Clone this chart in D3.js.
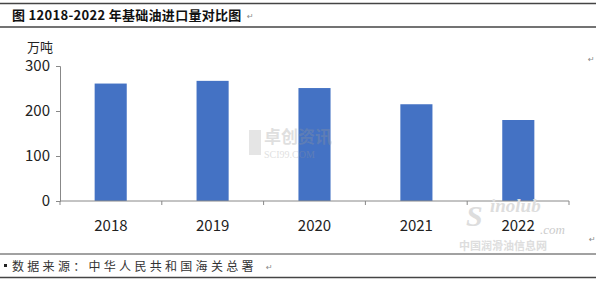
<!DOCTYPE html>
<html>
<head>
<meta charset="utf-8">
<script src="https://cdn.jsdelivr.net/npm/d3@7"></script>
<style>
  body { margin: 0; background: #fff; }
  svg { display: block; }
</style>
</head>
<body>
<script>
// data
const years = ["2018", "2019", "2020", "2021", "2022"];
const imports = [261, 267, 251, 215, 180];
const yTicks = [0, 100, 200, 300];

const W = 600, H = 281;
const margin = {top: 66, right: 31, bottom: 80, left: 60};
const width = W - margin.left - margin.right;
const height = H - margin.top - margin.bottom;

const svg = d3.select("body").append("svg")
  .attr("width", W)
  .attr("height", H);

// title lines
svg.append("line").attr("x1", 0).attr("x2", 596).attr("y1", 3.5).attr("y2", 3.5)
  .attr("stroke", "#444").attr("stroke-width", 1.5);
svg.append("line").attr("x1", 0).attr("x2", 596).attr("y1", 27).attr("y2", 27)
  .attr("stroke", "#444").attr("stroke-width", 1.5);
svg.append("text")
  .attr("x", 12).attr("y", 20)
  .attr("font-family", "'Noto Sans CJK SC', sans-serif")
  .attr("font-weight", "bold")
  .attr("font-size", 13)
  .attr("letter-spacing", 0.3)
  .attr("fill", "#111")
  .text("图 12018-2022 年基础油进口量对比图");
svg.append("text")
  .attr("x", 247).attr("y", 19)
  .attr("font-family", "DejaVu Sans").attr("font-size", 8).attr("fill", "#888")
  .text("↵");

const g = svg.append("g")
  .attr("transform", "translate(" + margin.left + "," + margin.top + ")");

const x = d3.scaleBand()
  .domain(years)
  .range([0, width])
  .paddingInner(0.685)
  .paddingOuter(0.34);

const xb = d3.scaleBand().domain(years).range([0, width]);

const y = d3.scaleLinear()
  .domain([0, 300])
  .range([height, 0]);

// watermark
const wm = svg.append("g").attr("opacity", 0.3);
wm.append("text").attr("x", 264).attr("y", 143)
  .attr("font-family", "'Noto Sans CJK SC'").attr("font-size", 17).attr("font-weight", "bold")
  .attr("fill", "#999").text("卓创资讯");
wm.append("text").attr("x", 264).attr("y", 158)
  .attr("font-family", "'Liberation Serif'").attr("font-size", 10)
  .attr("fill", "#999").text("SCI99.COM");
wm.append("rect").attr("x", 249).attr("y", 130).attr("width", 12).attr("height", 25).attr("fill", "#aaa");

// bars
g.selectAll("rect.bar")
  .data(imports)
  .enter().append("rect")
  .attr("class", "bar")
  .attr("x", (d, i) => x(years[i]))
  .attr("y", d => y(d))
  .attr("width", x.bandwidth())
  .attr("height", d => height - y(d))
  .attr("fill", "#4472C4");

// y axis
const yAxis = g.append("g")
  .call(d3.axisLeft(y).tickValues(yTicks).tickSize(4).tickPadding(6));
yAxis.select(".domain").attr("stroke", "#888");
yAxis.selectAll(".tick line").attr("stroke", "#888");
yAxis.selectAll("text")
  .attr("font-family", "'Noto Sans CJK SC', sans-serif")
  .attr("font-size", 15)
  .attr("fill", "#222");

// x axis with ticks at band boundaries
g.append("line").attr("x1", 0).attr("x2", width).attr("y1", height).attr("y2", height)
  .attr("stroke", "#888");
g.selectAll("line.xt")
  .data(years.concat(["end"]))
  .enter().append("line")
  .attr("class", "xt")
  .attr("x1", (d, i) => i * xb.bandwidth())
  .attr("x2", (d, i) => i * xb.bandwidth())
  .attr("y1", height).attr("y2", height + 4)
  .attr("stroke", "#888");
g.selectAll("text.xl")
  .data(years)
  .enter().append("text")
  .attr("class", "xl")
  .attr("x", d => xb(d) + xb.bandwidth() / 2)
  .attr("y", height + 30)
  .attr("text-anchor", "middle")
  .attr("font-family", "'Noto Sans CJK SC', sans-serif")
  .attr("font-size", 15)
  .attr("fill", "#222")
  .text(d => d);

// unit label
svg.append("text")
  .attr("x", 27).attr("y", 52)
  .attr("font-family", "'Noto Sans CJK SC', sans-serif")
  .attr("font-size", 13)
  .attr("fill", "#222")
  .text("万吨");

// sinolub logo (faint)
const lg = svg.append("g");
lg.append("text").attr("x", 466).attr("y", 226)
  .attr("font-family", "'Liberation Serif'").attr("font-style", "italic").attr("font-weight", "bold")
  .attr("font-size", 30).attr("fill", "#ddd").text("S");
lg.append("text").attr("x", 490).attr("y", 212)
  .attr("font-family", "'Liberation Serif'").attr("font-style", "italic").attr("font-weight", "bold")
  .attr("font-size", 19).attr("fill", "#ddd").text("inolub");
lg.append("text").attr("x", 540).attr("y", 234)
  .attr("font-family", "'Liberation Serif'").attr("font-style", "italic")
  .attr("font-size", 13).attr("fill", "#ccc").text(".com");
lg.append("text").attr("x", 459).attr("y", 250)
  .attr("font-family", "'Noto Sans CJK SC'").attr("font-size", 11).attr("font-weight", "bold")
  .attr("fill", "#ddd").text("中国润滑油信息网");
svg.append("text")
  .attr("x", 588).attr("y", 62)
  .attr("font-family", "DejaVu Sans").attr("font-size", 8).attr("fill", "#888").text("↵");
svg.append("text")
  .attr("x", 589).attr("y", 242)
  .attr("font-family", "DejaVu Sans").attr("font-size", 8).attr("fill", "#888").text("↵");

// source lines
svg.append("line").attr("x1", 0).attr("x2", 596).attr("y1", 254).attr("y2", 254)
  .attr("stroke", "#444").attr("stroke-width", 1);
svg.append("line").attr("x1", 0).attr("x2", 596).attr("y1", 277.5).attr("y2", 277.5)
  .attr("stroke", "#444").attr("stroke-width", 1.5);
svg.append("rect").attr("x", 4).attr("y", 264).attr("width", 3).attr("height", 3).attr("fill", "#222");
svg.append("text")
  .attr("x", 12).attr("y", 271)
  .attr("font-family", "'Noto Sans CJK SC', sans-serif")
  .attr("font-size", 12)
  .attr("letter-spacing", 3.3)
  .attr("fill", "#333")
  .text("数据来源：中华人民共和国海关总署");
svg.append("text")
  .attr("x", 266).attr("y", 270)
  .attr("font-family", "DejaVu Sans").attr("font-size", 8).attr("fill", "#888").text("↵");
</script>
</body>
</html>
